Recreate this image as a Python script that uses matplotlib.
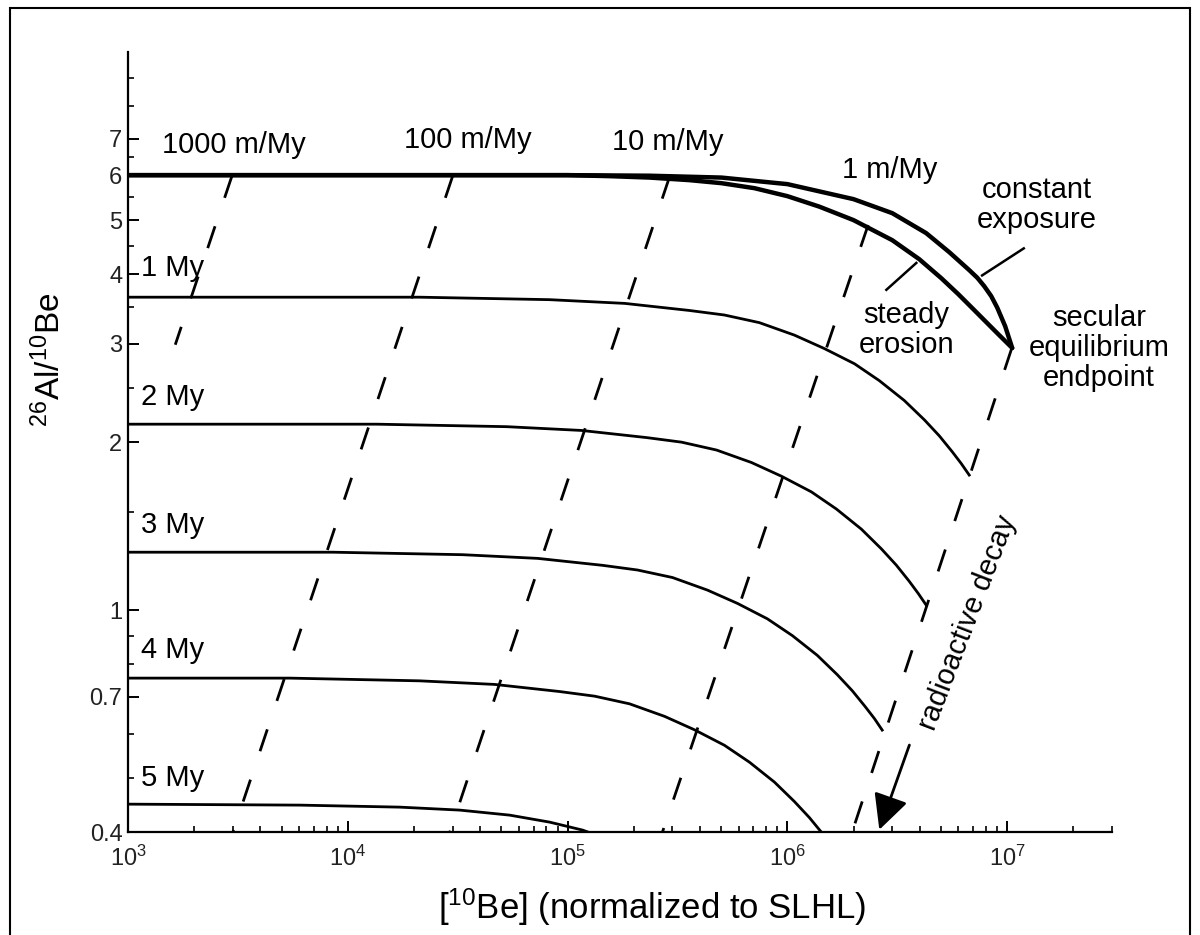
import matplotlib
matplotlib.use("Agg")
import matplotlib.pyplot as plt
from matplotlib.ticker import FixedLocator, FixedFormatter, LogLocator
from matplotlib.patches import Rectangle

plt.rcParams['font.family'] = ['Liberation Sans', 'DejaVu Sans']
plt.rcParams['mathtext.fontset'] = 'custom'
plt.rcParams['mathtext.rm'] = 'Liberation Sans'
plt.rcParams['mathtext.it'] = 'Liberation Sans:italic'

# steady erosion curve (no burial)
ero_x = [1e3, 1e5, 1.552e5, 2.36e5, 3.585e5, 5.01e5, 7.08e5, 1.0e6, 1.398e6, 2.0e6,
         3.0e6, 3.98e6, 5.01e6, 5.99e6, 7.01e6, 8.03e6, 9.01e6, 1.054e7]
ero_y = [6.02, 6.02, 5.995, 5.96, 5.897, 5.824, 5.705, 5.52, 5.286, 5.0,
         4.603, 4.256, 3.936, 3.684, 3.463, 3.282, 3.136, 2.95]
# constant exposure curve
exp_x = [1e3, 1e5, 2.36e5, 5.01e5, 1.0e6, 2.0e6, 3.0e6, 4.28e6, 5.45e6, 6.72e6,
         7.31e6, 7.86e6, 8.46e6, 9.01e6, 9.79e6, 1.054e7]
exp_y = [6.02, 6.02, 6.006, 5.96, 5.801, 5.452, 5.146, 4.739, 4.381, 4.068,
         3.942, 3.808, 3.654, 3.485, 3.228, 2.95]

# burial isochrons
my1_x = [1e3, 2.12e4, 8.28e4, 1.82e5, 3.58e5, 5.17e5, 7.46e5, 1.076e6, 1.47e6,
         2.02e6, 2.62e6, 3.40e6, 4.20e6, 4.91e6, 5.62e6, 6.18e6, 6.72e6]
my1_y = [3.638, 3.638, 3.601, 3.546, 3.444, 3.380, 3.275, 3.111, 2.944,
         2.764, 2.578, 2.376, 2.193, 2.053, 1.923, 1.831, 1.746]
my2_x = [1e3, 1.354e4, 5.28e4, 1.158e5, 2.29e5, 3.30e5, 4.76e5, 6.86e5, 9.39e5,
         1.286e6, 1.67e6, 2.17e6, 2.68e6, 3.13e6, 3.58e6, 3.94e6, 4.28e6]
my2_y = [2.154, 2.154, 2.132, 2.099, 2.038, 2.0, 1.936, 1.839, 1.738,
         1.629, 1.518, 1.397, 1.287, 1.204, 1.127, 1.071, 1.021]
my3_x = [1e3, 8.55e3, 3.33e4, 7.31e4, 1.443e5, 2.08e5, 3.0e5, 4.33e5, 5.93e5,
         8.11e5, 1.054e6, 1.369e6, 1.688e6, 1.975e6, 2.26e6, 2.49e6, 2.70e6]
my3_y = [1.270, 1.270, 1.257, 1.238, 1.203, 1.180, 1.144, 1.086, 1.028,
         0.9647, 0.900, 0.8295, 0.7658, 0.7167, 0.6714, 0.639, 0.6095]
my4_x = [1e3, 5.45e3, 2.12e4, 4.66e4, 9.20e4, 1.327e5, 1.913e5, 2.76e5, 3.78e5,
         5.17e5, 6.72e5, 8.73e5, 1.076e6, 1.259e6, 1.443e6, 1.585e6]
my4_y = [0.7553, 0.7553, 0.7469, 0.7359, 0.7146, 0.7011, 0.6793, 0.6451, 0.6102,
         0.5725, 0.5339, 0.4918, 0.4539, 0.4248, 0.3979, 0.3785]
my5_x = [1e3, 6.05e3, 1.723e4, 3.23e4, 5.45e4, 8.28e4, 1.17e5, 1.259e5]
my5_y = [0.449, 0.4472, 0.4435, 0.4381, 0.4291, 0.4169, 0.4034, 0.3992]

isochrons = [(my1_x, my1_y), (my2_x, my2_y), (my3_x, my3_y), (my4_x, my4_y), (my5_x, my5_y)]
iso_labels = ["1 My", "2 My", "3 My", "4 My", "5 My"]
iso_label_y = [4.10, 2.41, 1.42, 0.848, 0.50]

# burial paths (dashed), from top point down
burial_lines = [
    ([2.97e3, 1.64e3], [6.0, 2.99]),
    ([3.0e4, 3.0e3], [6.0, 0.4]),
    ([2.91e5, 2.91e4], [5.98, 0.4]),
    ([2.33e6, 2.7e5], [4.90, 0.4]),
    ([1.05e7, 1.97e6], [2.95, 0.4]),
]
rate_labels = ["1000 m/My", "100 m/My", "10 m/My", "1 m/My"]
rate_label_x = [3.03e3, 3.51e4, 2.85e5, 2.91e6]
rate_label_y = [6.81, 6.96, 6.9, 6.15]

yticks = [0.4, 0.7, 1, 2, 3, 4, 5, 6, 7]
yminor = [0.5, 0.6, 0.8, 0.9, 1.5, 2.5, 3.5, 4.5, 5.5, 6.5, 8, 9]

fig = plt.figure(figsize=(12, 9.35), dpi=100)
ax = fig.add_axes([0.1067, 0.110, 0.82, 0.8342])
ax.set_xscale('log')
ax.set_yscale('log')
ax.set_xlim(1e3, 3e7)
ax.set_ylim(0.4, 10)

ax.plot(ero_x, ero_y, color='black', lw=3.2, solid_capstyle='round')
ax.plot(exp_x, exp_y, color='black', lw=3.2, solid_capstyle='round')
for (xs, ys) in isochrons:
    ax.plot(xs, ys, color='black', lw=2.0)
for (xs, ys) in burial_lines:
    ax.plot(xs, ys, color='black', lw=2.0, linestyle=(0, (8.3, 10.8)))

for lab, ly in zip(iso_labels, iso_label_y):
    ax.text(1.14e3, ly, lab, fontsize=21, ha='left', va='center')
for lab, lx, ly in zip(rate_labels, rate_label_x, rate_label_y):
    ax.text(lx, ly, lab, fontsize=21, ha='center', va='center')

ax.text(1.36e7, 5.32, "constant\nexposure", fontsize=21, ha='center', va='center',
        linespacing=1.1)
ax.plot([7.69e6, 1.19e7], [3.98, 4.45], color='black', lw=1.8)
ax.text(3.47e6, 3.18, "steady\nerosion", fontsize=21, ha='center', va='center',
        linespacing=1.1)
ax.plot([2.82e6, 3.86e6], [3.75, 4.19], color='black', lw=1.8)
ax.text(2.62e7, 2.95, "secular\nequilibrium\nendpoint", fontsize=21, ha='center',
        va='center', linespacing=1.1, clip_on=False)

ax.annotate('', xy=(2.62e6, 0.404), xytext=(3.59e6, 0.573),
            arrowprops=dict(arrowstyle='-|>,head_length=0.6,head_width=0.3',
                            mutation_scale=36, lw=2.0, color='black',
                            shrinkA=0, shrinkB=0))
ax.text(6.58e6, 0.95, "radioactive decay", fontsize=21, rotation=69,
        ha='center', va='center', rotation_mode='anchor')

ax.spines['top'].set_visible(False)
ax.spines['right'].set_visible(False)
ax.spines['left'].set_linewidth(1.6)
ax.spines['bottom'].set_linewidth(1.6)

ax.xaxis.set_major_locator(LogLocator(base=10, numticks=10))
ax.xaxis.set_minor_locator(LogLocator(base=10, subs=range(2, 10), numticks=20))
ax.yaxis.set_major_locator(FixedLocator(yticks))
ax.yaxis.set_major_formatter(FixedFormatter([str(t) for t in yticks]))
ax.yaxis.set_minor_locator(FixedLocator(yminor))
ax.yaxis.set_minor_formatter(FixedFormatter([]))
ax.tick_params(which='major', direction='in', length=8, width=1.4, labelsize=17, pad=4,
               labelcolor='#222222')
ax.tick_params(which='minor', direction='in', length=4, width=1.2)
ax.tick_params(axis='x', which='major', pad=10)

fig.text(50 / 1200, 1 - 360 / 935, "$^{26}$Al/$^{10}$Be", rotation=90, fontsize=24,
         ha='center', va='center')
fig.text(652 / 1200, 1 - 907 / 935, "[$^{10}$Be] (normalized to SLHL)", fontsize=25,
         ha='center', va='center')

fig.patches.append(Rectangle((10 / 1200, -0.01), 1180 / 1200, 1 - 8 / 935 + 0.01,
                             transform=fig.transFigure, fill=False, lw=1.5,
                             edgecolor='black'))

fig.savefig('out.png', dpi=100)
